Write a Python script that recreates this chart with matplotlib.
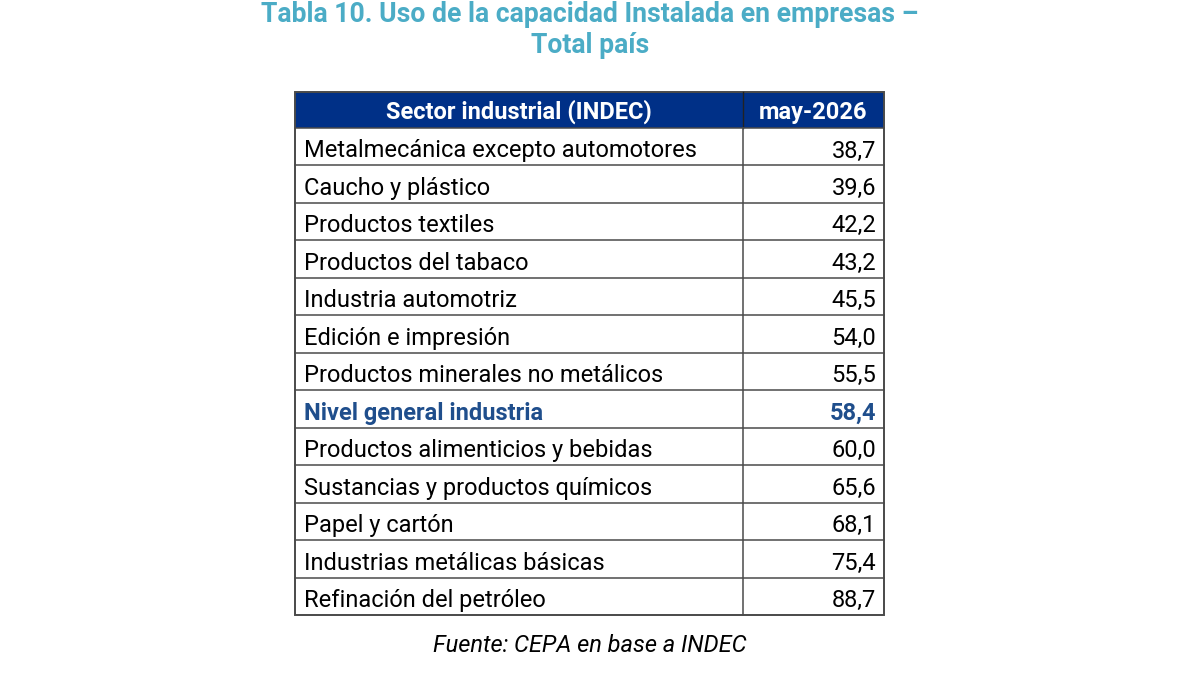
import matplotlib

matplotlib.use("Agg")
import matplotlib.pyplot as plt
from matplotlib.patches import Rectangle

TITLE_LINES = ["Tabla 10. Uso de la capacidad Instalada en empresas –", "Total país"]
HEADERS = ["Sector industrial (INDEC)", "may-2026"]
SECTORS = [
    "Metalmecánica excepto automotores",
    "Caucho y plástico",
    "Productos textiles",
    "Productos del tabaco",
    "Industria automotriz",
    "Edición e impresión",
    "Productos minerales no metálicos",
    "Nivel general industria",
    "Productos alimenticios y bebidas",
    "Sustancias y productos químicos",
    "Papel y cartón",
    "Industrias metálicas básicas",
    "Refinación del petróleo",
]
VALUES = [38.7, 39.6, 42.2, 43.2, 45.5, 54.0, 55.5, 58.4, 60.0, 65.6, 68.1, 75.4, 88.7]
HIGHLIGHT = "Nivel general industria"
SOURCE = "Fuente: CEPA en base a INDEC"

TITLE_COLOR = "#4bacc6"
HEAD_FILL = "#003087"
HIGHLIGHT_COLOR = "#1f4e8c"
LINE = "#4a4a4a"

plt.rcParams["font.family"] = ["Roboto", "DejaVu Sans"]

fig = plt.figure(figsize=(11.91, 6.8), dpi=100)
ax = fig.add_axes([0, 0, 1, 1])
# one data unit = one pixel, y downwards
ax.set_xlim(0, 1191)
ax.set_ylim(680, 0)
ax.axis("off")

x0, xmid, x1 = 295, 743, 884
head_top, head_bot, tab_bot = 92, 128, 615
row_h = (tab_bot - head_bot) / len(SECTORS)
BODY_FS = 17

for line, base in zip(TITLE_LINES, [22, 53]):
    ax.text(590, base, line, ha="center", va="baseline", fontsize=19.2,
            fontweight="bold", color=TITLE_COLOR)

ax.add_patch(Rectangle((x0, head_top), x1 - x0, head_bot - head_top,
                       facecolor=HEAD_FILL, edgecolor="none"))
ax.plot([xmid, xmid], [head_top, head_bot], color="#222222", lw=1.0)
ax.text((x0 + xmid) / 2, 119, HEADERS[0], ha="center", va="baseline",
        fontsize=BODY_FS, fontweight="bold", color="white")
ax.text((xmid + x1) / 2, 119, HEADERS[1], ha="center", va="baseline",
        fontsize=BODY_FS, fontweight="bold", color="white")

for i, (name, val) in enumerate(zip(SECTORS, VALUES)):
    top = head_bot + i * row_h
    ax.plot([x0, x1], [top, top], color=LINE, lw=1.1)
    bold = name == HIGHLIGHT
    color = HIGHLIGHT_COLOR if bold else "black"
    weight = "bold" if bold else "normal"
    base = top + 29.5
    ax.text(x0 + 9, base, name, ha="left", va="baseline", fontsize=BODY_FS,
            color=color, fontweight=weight)
    ax.text(x1 - 8, base, f"{val:.1f}".replace(".", ","), ha="right",
            va="baseline", fontsize=BODY_FS, color=color, fontweight=weight)

ax.plot([xmid, xmid], [head_bot, tab_bot], color=LINE, lw=1.1)
ax.add_patch(Rectangle((x0, head_top), x1 - x0, tab_bot - head_top,
                       facecolor="none", edgecolor=LINE, lw=1.4))

ax.text(590, 652, SOURCE, ha="center", va="baseline", fontsize=BODY_FS,
        style="italic")

fig.savefig("out.png", dpi=100)
